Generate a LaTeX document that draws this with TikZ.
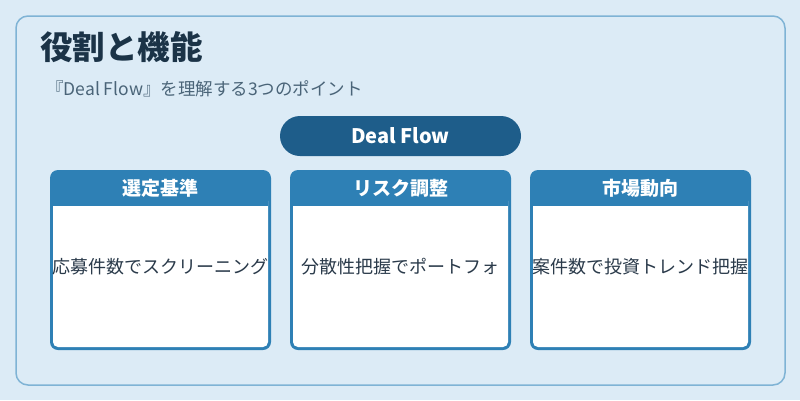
\documentclass[tikz,border=0pt]{standalone}
\usepackage{fontspec}
\setmainfont{Noto Sans CJK JP}
\usetikzlibrary{positioning}
\definecolor{pagebg}{HTML}{DCEBF6}
\definecolor{frameline}{HTML}{7FB3D5}
\definecolor{titleink}{HTML}{1B3347}
\definecolor{subink}{HTML}{4A6478}
\definecolor{pillblue}{HTML}{1E5D8A}
\definecolor{cardblue}{HTML}{2E80B5}
\definecolor{bodyink}{HTML}{2A3A4A}
\tikzset{
  headtext/.style={font=\fontsize{19}{22}\selectfont\bfseries, text=white},
  bodytext/.style={font=\fontsize{18}{21}\selectfont, text=bodyink},
}

\begin{document}
\begin{tikzpicture}[x=1pt,y=-1pt]
            % Page
            \useasboundingbox (0,0) rectangle (800,400);
            \fill[pagebg] (0,0) rectangle (800,400);
            \draw[frameline, line width=1.5, rounded corners=12] (16,16) rectangle (785,385);
            
            % Title and subtitle
            \node[anchor=west, font=\fontsize{32.5}{38}\selectfont\bfseries, text=titleink, inner sep=0] (title) at (40,47) {役割と機能};
            \node[anchor=west, font=\fontsize{17.5}{21}\selectfont, text=subink, inner sep=0] (subtitle) at (46,89) {『Deal Flow』を理解する3つのポイント};
            
            % Deal Flow pill
            \fill[pillblue, rounded corners=20] (280,116) rectangle (521,156);
            \node[font=\fontsize{20}{23}\selectfont\bfseries, text=white] (pill) at (400.5,136) {Deal Flow};
            
            % Cards
            \foreach \x/\head/\body/\name in {50/選定基準/応募件数でスクリーニング/sel,
                                              290/リスク調整/分散性把握でポートフォ/risk,
                                              530/市場動向/案件数で投資トレンド把握/mkt}{
              \fill[cardblue, rounded corners=8] (\x,170) rectangle ({\x+221},350);
              \fill[white, rounded corners=5] ({\x+3},196) rectangle ({\x+218},347);
              \fill[cardblue] ({\x+3},190) rectangle ({\x+218},206);
              \node[headtext] (\name head) at ({\x+110.5},188) {\head};
              \node[bodytext, inner sep=0] (\name body) at ({\x+110.5},267) {\body};
            }
            
        \end{tikzpicture}
\end{document}
